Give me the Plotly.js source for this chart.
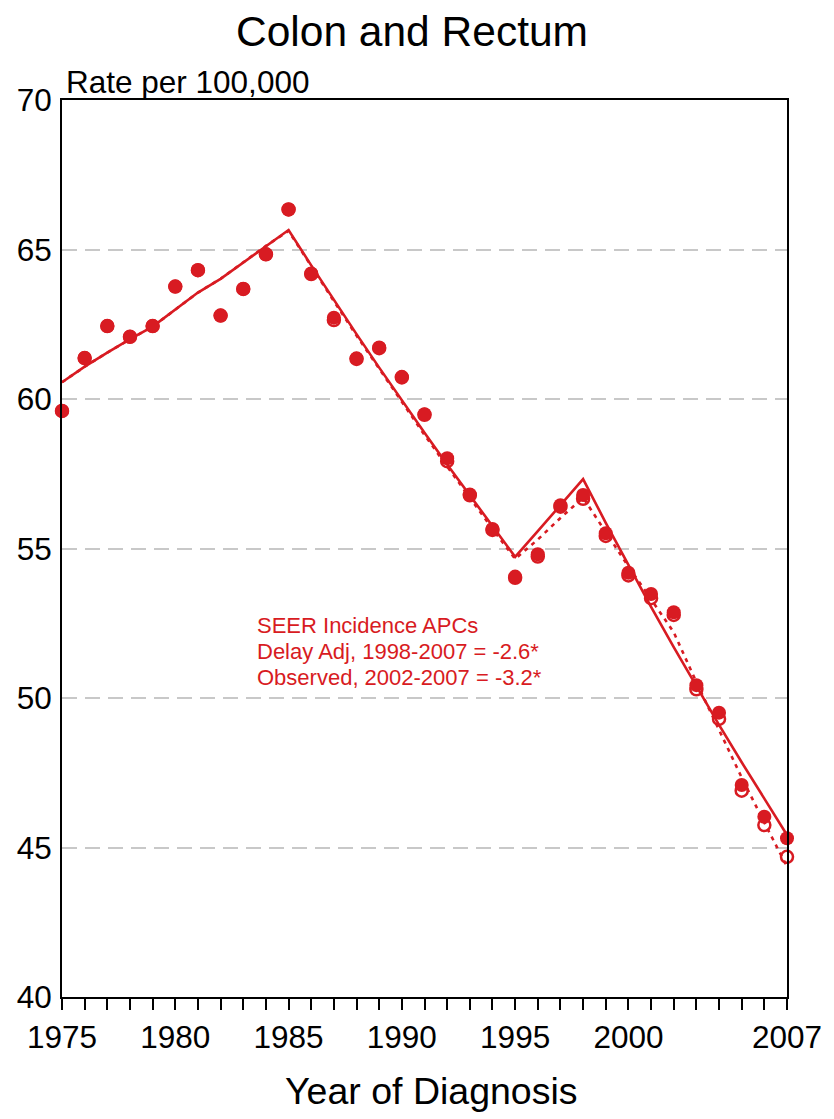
<!DOCTYPE html>
<html>
<head>
<meta charset="utf-8">
<script src="https://cdn.plot.ly/plotly-3.0.1.min.js"></script>
<style>html,body{margin:0;padding:0;background:#fff;}#chart{width:834px;height:1119px;}</style>
</head>
<body>
<div id="chart"></div>
<script>
const years = [1975,1976,1977,1978,1979,1980,1981,1982,1983,1984,1985,1986,1987,1988,1989,1990,1991,1992,1993,1994,1995,1996,1997,1998,1999,2000,2001,2002,2003,2004,2005,2006,2007];

// Delay-adjusted observed rates (filled circles)
const delayAdjRates = [59.60,61.37,62.44,62.08,62.44,63.76,64.31,62.79,63.68,64.84,66.34,64.20,62.72,61.36,61.72,60.74,59.49,58.02,56.81,55.65,54.06,54.81,56.45,56.79,55.51,54.19,53.48,52.87,50.43,49.51,47.09,46.03,45.31];

// Observed rates (open circles)
const observedRates = [59.60,61.37,62.44,62.08,62.44,63.76,64.31,62.79,63.68,64.84,66.34,64.18,62.64,61.34,61.70,60.72,59.47,57.92,56.78,55.62,54.02,54.73,56.40,56.66,55.42,54.10,53.34,52.78,50.29,49.30,46.90,45.75,44.69];

// Joinpoint fit, delay adjusted (solid)
const delayAdjFit = [60.56,61.08,61.55,62.00,62.42,62.98,63.56,64.02,64.56,65.12,65.65,64.47,63.31,62.17,61.05,59.95,58.87,57.81,56.77,55.75,54.72,55.58,56.44,57.32,55.86,54.44,53.05,51.70,50.38,49.10,47.85,46.63,45.42];

// Joinpoint fit, observed (dotted)
const observedFit = [60.56,61.08,61.55,62.00,62.42,62.98,63.56,64.02,64.56,65.12,65.62,64.43,63.27,62.12,61.00,59.89,58.80,57.74,56.69,55.66,54.65,55.30,56.02,56.70,55.55,54.40,53.30,52.20,50.53,48.91,47.34,45.83,44.36];

const xTickVals = years;
const xTickText = ["1975","","","","","1980","","","","","1985","","","","","1990","","","","","1995","","","","","2000","","","","","","","2007"];
const yTickVals = [40,45,50,55,60,65,70];

const apcLines = ["SEER Incidence APCs","Delay Adj, 1998-2007 = -2.6*","Observed, 2002-2007 = -3.2*"];

const red = "#d81b22";
const font = "Liberation Sans, Arial, Helvetica, sans-serif";

const traces = [
  {x: years, y: observedFit, type: "scatter", mode: "lines", line: {color: red, width: 2.6, dash: "4px,5px"}, hoverinfo: "skip", cliponaxis: false},
  {x: years, y: delayAdjFit, type: "scatter", mode: "lines", line: {color: red, width: 2.6}, hoverinfo: "skip", cliponaxis: false},
  {x: years, y: observedRates, type: "scatter", mode: "markers", marker: {symbol: "circle-open", size: 12, color: red, line: {color: red, width: 2.5}}, cliponaxis: false},
  {x: years, y: delayAdjRates, type: "scatter", mode: "markers", marker: {symbol: "circle", size: 14, color: red, line: {width: 0}}, cliponaxis: false}
];

const annY = [52.44, 51.55, 50.67];
const annotations = apcLines.map((t, i) => ({
  text: t, x: 1983.52, xref: "x", y: annY[i], yref: "y", showarrow: false,
  xanchor: "left", yanchor: "middle", font: {family: font, size: 22, color: red}
}));

annotations.push({
  text: "Rate per 100,000", xref: "paper", yref: "paper", x: 0.003, y: 1.0, xanchor: "left", yanchor: "bottom",
  showarrow: false, yshift: -2, font: {family: font, size: 31.5, color: "#000"}
});
annotations.push({
  text: "Year of Diagnosis", xref: "paper", yref: "paper", x: 0.509, y: 0, xanchor: "center", yanchor: "top",
  showarrow: false, yshift: -71, font: {family: font, size: 37.5, color: "#000"}
});

const layout = {
  width: 834, height: 1119,
  margin: {l: 62, r: 47, t: 100, b: 122},
  paper_bgcolor: "#fff", plot_bgcolor: "#fff",
  showlegend: false,
  title: {text: "Colon and Rectum", x: 0.494, xanchor: "center", y: 0.972, yanchor: "middle", yref: "container",
          font: {family: font, size: 42.5, color: "#000"}},
  font: {family: font, color: "#000"},
  xaxis: {
    range: [1975, 2007], tickmode: "array", tickvals: xTickVals, ticktext: xTickText,
    ticks: "outside", ticklen: 11, tickwidth: 2, tickcolor: "#000",
    showline: true, linecolor: "#000", linewidth: 2, mirror: true,
    showgrid: false, zeroline: false, fixedrange: true,
    tickfont: {family: font, size: 31.5, color: "#000"}
  },
  yaxis: {
    range: [40, 70], tickmode: "array", tickvals: yTickVals, ticks: "",
    showline: true, linecolor: "#000", linewidth: 2, mirror: true,
    showgrid: true, gridcolor: "#c8c8c8", gridwidth: 2, griddash: "15px,8px",
    zeroline: false, fixedrange: true, ticklabelstandoff: 2,
    tickfont: {family: font, size: 31.5, color: "#000"}
  },
  annotations: annotations
};

Plotly.newPlot("chart", traces, layout, {staticPlot: true, displayModeBar: false});
</script>
</body>
</html>
